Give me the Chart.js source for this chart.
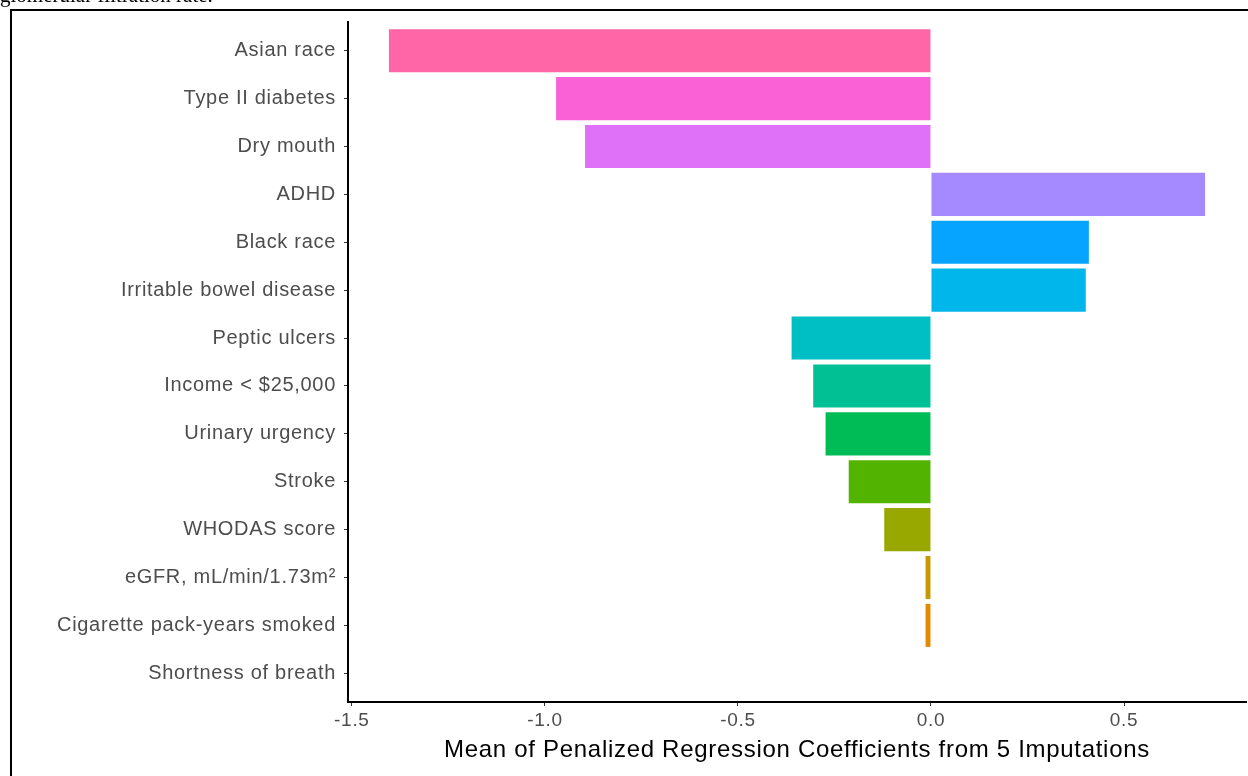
<!DOCTYPE html>
<html>
<head>
<meta charset="utf-8">
<script src="https://cdn.jsdelivr.net/npm/chart.js@4/dist/chart.umd.min.js"></script>
<style>
  html, body { margin: 0; padding: 0; background: #ffffff; }
  #wrap { width: 1248px; height: 776px; position: relative; }
</style>
</head>
<body>
<div id="wrap"><canvas id="c" width="1248" height="776"></canvas></div>
<script>
const categories = [
  "Asian race",
  "Type II diabetes",
  "Dry mouth",
  "ADHD",
  "Black race",
  "Irritable bowel disease",
  "Peptic ulcers",
  "Income < $25,000",
  "Urinary urgency",
  "Stroke",
  "WHODAS score",
  "eGFR, mL/min/1.73m\u00B2",
  "Cigarette pack-years smoked",
  "Shortness of breath"
];
const coefficients = [-1.404, -0.971, -0.896, 0.710, 0.409, 0.401, -0.361, -0.305, -0.273, -0.213, -0.121, -0.014, -0.014, 0.0];
const barColors = ["#FF66A8", "#FB61D7", "#DF70F8", "#A58AFF", "#06A4FF", "#00B6EB", "#00BFC4", "#00C094", "#00BC56", "#53B400", "#99A800", "#C49A00", "#E38900", "#F8766D"];
const xTickValues = [-1.5, -1.0, -0.5, 0.0, 0.5];
const xTitle = "Mean of Penalized Regression Coefficients from 5 Imputations";
const captionText = "glomerular filtration rate.";

const points = categories.map((c, i) => ({ x: coefficients[i], y: i }));

const spacingPlugin = {
  id: 'spacing',
  beforeUpdate(chart) { chart.ctx.letterSpacing = '0.7px'; },
  beforeDraw(chart) { chart.ctx.letterSpacing = '0.7px'; }
};

const framePlugin = {
  id: 'frame',
  afterDraw(chart) {
    const ctx = chart.ctx;
    ctx.save();
    ctx.letterSpacing = '0px';
    ctx.fillStyle = '#000';
    ctx.font = '21px "Liberation Serif", serif';
    ctx.textBaseline = 'alphabetic';
    ctx.textAlign = 'left';
    ctx.fillText(captionText, 0, 2);
    ctx.strokeStyle = '#000';
    ctx.lineWidth = 2;
    ctx.beginPath();
    ctx.moveTo(11, 776);
    ctx.lineTo(11, 10);
    ctx.lineTo(1248, 10);
    ctx.stroke();
    ctx.restore();
  }
};

const sans = '"Liberation Sans", Arial, sans-serif';

new Chart(document.getElementById('c'), {
  type: 'bar',
  data: {
    datasets: [{
      data: points,
      backgroundColor: barColors,
      borderWidth: 0,
      barPercentage: 0.9,
      categoryPercentage: 1.0
    }]
  },
  options: {
    indexAxis: 'y',
    responsive: false,
    animation: false,
    devicePixelRatio: 1,
    layout: { padding: { left: 0, top: 22, right: 2, bottom: 0 } },
    plugins: {
      legend: { display: false },
      tooltip: { enabled: false }
    },
    scales: {
      x: {
        type: 'linear',
        min: -1.51,
        max: 0.816,
        offset: false,
        afterBuildTicks: s => { s.ticks = xTickValues.map(v => ({ value: v })); },
        afterFit: s => { s.height = 74; },
        grid: { display: true, offset: false, drawOnChartArea: false, drawTicks: true, tickLength: 4, color: '#333333', lineWidth: 1 },
        border: { display: true, color: '#000000', width: 2 },
        ticks: {
          padding: 3,
          color: '#4d4d4d',
          font: { family: sans, size: 19 },
          callback: v => v.toFixed(1)
        },
        title: {
          display: true,
          text: xTitle,
          color: '#000000',
          font: { family: sans, size: 24 },
          padding: { top: 0, bottom: 11 }
        }
      },
      y: {
        type: 'linear',
        reverse: true,
        offset: false,
        min: -0.6,
        max: categories.length - 1 + 0.6,
        afterBuildTicks: s => { s.ticks = categories.map((c, i) => ({ value: i })); },
        afterFit: s => { s.width = 348; },
        grid: { display: true, offset: false, drawOnChartArea: false, drawTicks: true, tickLength: 4, color: '#333333', lineWidth: 1 },
        border: { display: true, color: '#000000', width: 2 },
        ticks: {
          padding: 8,
          color: '#4d4d4d',
          font: { family: sans, size: 20 },
          callback: v => categories[v]
        }
      }
    }
  },
  plugins: [spacingPlugin, framePlugin]
});
</script>
</body>
</html>
